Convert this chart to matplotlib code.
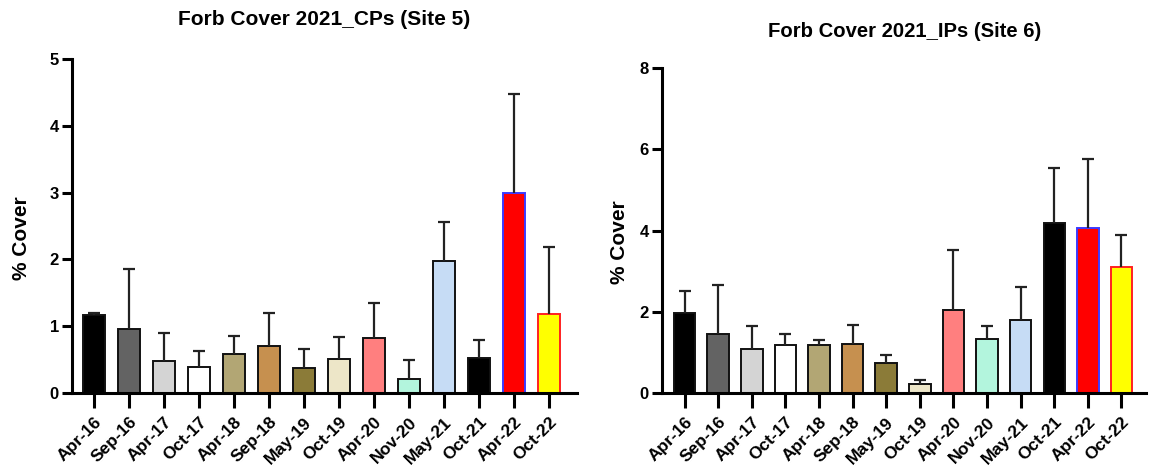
import numpy as np
import matplotlib
matplotlib.use('Agg')
import matplotlib.pyplot as plt

plt.rcParams['font.family'] = ['Liberation Sans', 'DejaVu Sans']
plt.rcParams['font.weight'] = 'bold'

dates = ['Apr-16', 'Sep-16', 'Apr-17', 'Oct-17', 'Apr-18', 'Sep-18', 'May-19',
         'Oct-19', 'Apr-20', 'Nov-20', 'May-21', 'Oct-21', 'Apr-22', 'Oct-22']

# Site 5 (CPs): mean and top of error bar
cp_mean = [1.17, 0.96, 0.48, 0.39, 0.58, 0.71, 0.37, 0.51, 0.83, 0.21, 1.98, 0.53, 3.00, 1.19]
cp_top = [1.20, 1.86, 0.90, 0.63, 0.85, 1.20, 0.66, 0.84, 1.34, 0.50, 2.56, 0.79, 4.47, 2.19]

# Site 6 (IPs)
ip_mean = [1.97, 1.45, 1.08, 1.19, 1.18, 1.21, 0.73, 0.21, 2.04, 1.32, 1.79, 4.18, 4.07, 3.09]
ip_top = [2.52, 2.66, 1.64, 1.46, 1.30, 1.67, 0.93, 0.32, 3.51, 1.66, 2.60, 5.54, 5.76, 3.90]

fills = ['#000000', '#636363', '#d4d4d4', '#ffffff', '#b2a674', '#c6904f', '#8b7b38',
         '#ede6c8', '#ff7f7f', '#b3f5dd', '#c6dcf5', '#000000', '#ff0000', '#ffff00']
edges = ['#111111'] * 12 + ['#3b3bff', '#ff2020']


def draw_panel(ax, mean, top, ymax, yticks, label_xy):
    x = np.arange(len(dates))
    ax.bar(x, mean, width=0.64, color=fills, edgecolor=edges, linewidth=1.4, zorder=2)
    err = np.array(top) - np.array(mean)
    eb = ax.errorbar(x, mean, yerr=[np.zeros(len(err)), err], fmt='none',
                     ecolor='#222222', elinewidth=1.6, capsize=4.5, capthick=1.6, zorder=3)
    # keep only the upper caps
    for cl in eb[1]:
        if np.allclose(cl.get_ydata(), mean):
            cl.set_visible(False)
    ax.set_ylim(0, ymax)
    ax.set_yticks(yticks)
    ax.set_xticks(x)
    ax.set_xticklabels(dates, rotation=45, ha='right', rotation_mode='anchor',
                       fontsize=12.5, fontweight='bold')
    ax.set_yticklabels([str(t) for t in yticks], fontsize=12, fontweight='bold')
    ax.spines['top'].set_visible(False)
    ax.spines['right'].set_visible(False)
    ax.spines['left'].set_linewidth(2.2)
    ax.spines['bottom'].set_linewidth(2.2)
    ax.tick_params(axis='x', length=10.5, width=2.2, pad=5)
    ax.tick_params(axis='y', length=7.5, width=2.2, pad=2)
    ax.set_ylabel('% Cover', fontsize=15, fontweight='bold')
    ax.yaxis.set_label_coords(*label_xy)


fig = plt.figure(figsize=(11.49, 4.71), dpi=100)
ax1 = fig.add_axes([0.0627, 0.1656, 0.4395, 0.7091])
ax1.set_xlim(-0.63, 13.8)
draw_panel(ax1, cp_mean, cp_top, 5, [0, 1, 2, 3, 4, 5], (-0.081, 0.465))

ax2 = fig.add_axes([0.5762, 0.1656, 0.4212, 0.69])
ax2.set_xlim(-0.67, 13.73)
draw_panel(ax2, ip_mean, ip_top, 8, [0, 2, 4, 6, 8], (-0.068, 0.465))

fig.text(0.282, 0.947, 'Forb Cover 2021_CPs (Site 5)', ha='center', va='baseline',
         fontsize=15, fontweight='bold')
fig.text(0.7876, 0.921, 'Forb Cover 2021_IPs (Site 6)', ha='center', va='baseline',
         fontsize=14.6, fontweight='bold')

fig.savefig('out.png', dpi=100)
